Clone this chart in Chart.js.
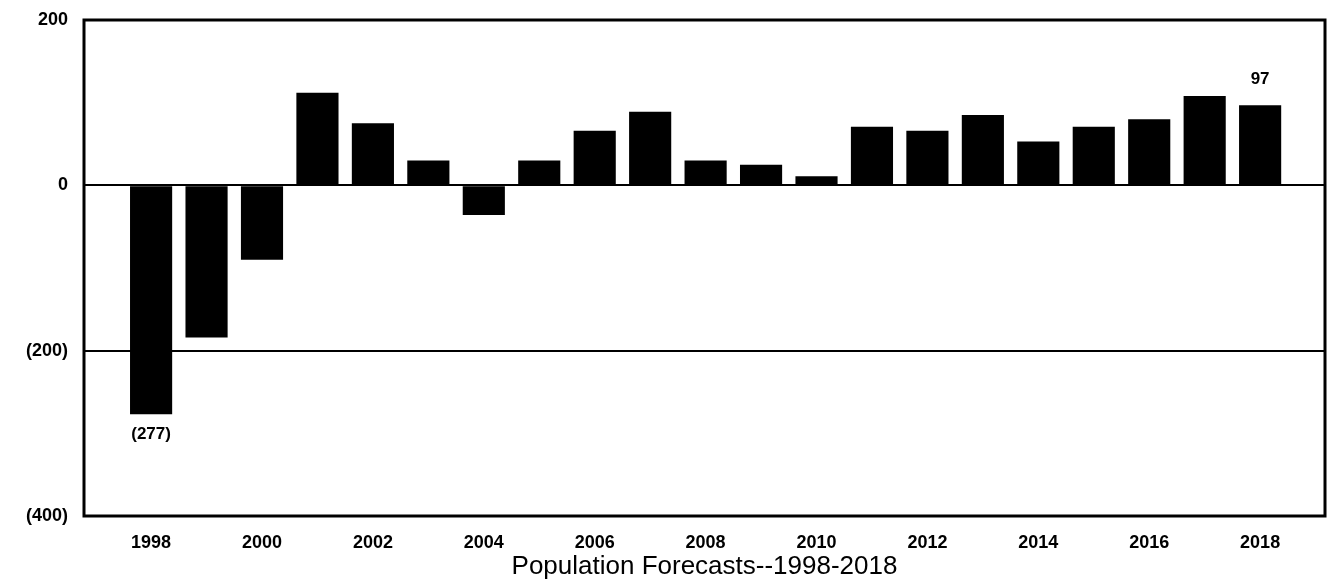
<!DOCTYPE html>
<html>
<head>
<meta charset="utf-8">
<script src="https://cdn.jsdelivr.net/npm/chart.js@4.4.1/dist/chart.umd.min.js"></script>
<style>
html,body{margin:0;padding:0;background:#fff;}
#wrap{width:1330px;height:583px;}
</style>
</head>
<body>
<div id="wrap"><canvas id="c" width="1330" height="583"></canvas></div>
<script>
const years = [1998,1999,2000,2001,2002,2003,2004,2005,2006,2007,2008,2009,2010,2011,2012,2013,2014,2015,2016,2017,2018];
const values = [-277,-184,-90,112,75,30,-36,30,66,89,30,25,11,71,66,85,53,71,80,108,97];
const xTicks = [1998,2000,2002,2004,2006,2008,2010,2012,2014,2016,2018];
const yTicks = [200,0,-200,-400];
const labelled = {1998:'(277)', 2018:'97'};
const titleText = 'Population Forecasts--1998-2018';

const fmt = v => v < 0 ? '(' + Math.abs(v) + ')' : String(v);
const FONT = 'Liberation Sans, Arial, sans-serif';

const borderPlugin = {
  id: 'borderBox',
  afterDraw(chart) {
    const {ctx, chartArea: a} = chart;
    ctx.save();
    ctx.strokeStyle = '#000';
    ctx.lineWidth = 3;
    ctx.strokeRect(a.left, a.top, a.right - a.left, a.bottom - a.top);
    // title centred under the plot area
    ctx.fillStyle = '#000';
    ctx.font = '26px ' + FONT;
    ctx.textAlign = 'center';
    ctx.textBaseline = 'middle';
    ctx.fillText(titleText, (a.left + a.right) / 2, 567);
    ctx.restore();
  }
};

const labelPlugin = {
  id: 'valLabels',
  afterDatasetsDraw(chart) {
    const {ctx} = chart;
    const meta = chart.getDatasetMeta(0);
    ctx.save();
    ctx.fillStyle = '#000';
    ctx.font = 'bold 17px ' + FONT;
    ctx.textAlign = 'center';
    ctx.textBaseline = 'middle';
    meta.data.forEach((bar, i) => {
      const t = labelled[years[i]];
      if (!t) return;
      if (values[i] < 0) {
        ctx.fillText(t, bar.x, bar.y + 20);
      } else {
        ctx.fillText(t, bar.x, bar.y - 26);
      }
    });
    ctx.restore();
  }
};

new Chart(document.getElementById('c'), {
  type: 'bar',
  data: {
    datasets: [{
      data: years.map((y, i) => ({x: y, y: values[i]})),
      backgroundColor: '#000',
      borderWidth: 0,
      barPercentage: 0.76,
      categoryPercentage: 1
    }]
  },
  options: {
    responsive: false,
    animation: false,
    layout: {padding: {top: 20, right: 5, left: 0, bottom: 30}},
    plugins: {
      legend: {display: false},
      tooltip: {enabled: false},
      title: {display: false}
    },
    scales: {
      x: {
        type: 'linear',
        offset: false,
        min: 1996.79,
        max: 2019.17,
        grid: {display: false, drawTicks: false},
        border: {display: false},
        afterBuildTicks: s => { s.ticks = xTicks.map(v => ({value: v})); },
        afterFit: s => { s.height = 37; },
        ticks: {
          color: '#000',
          padding: 16,
          font: {family: FONT, size: 18, weight: 'bold'},
          callback: v => String(v)
        }
      },
      y: {
        min: -400,
        max: 200,
        afterBuildTicks: s => { s.ticks = yTicks.map(v => ({value: v})); },
        afterFit: s => { s.width = 84; s.paddingTop = 0; s.paddingBottom = 0; },
        grid: {
          drawTicks: false,
          lineWidth: 2,
          color: c => (c.tick && (c.tick.value === 0 || c.tick.value === -200)) ? '#000' : 'rgba(0,0,0,0)'
        },
        border: {display: false},
        ticks: {
          color: '#000',
          padding: 16,
          font: {family: FONT, size: 18, weight: 'bold'},
          callback: v => fmt(v)
        }
      }
    }
  },
  plugins: [borderPlugin, labelPlugin]
});
</script>
</body>
</html>
